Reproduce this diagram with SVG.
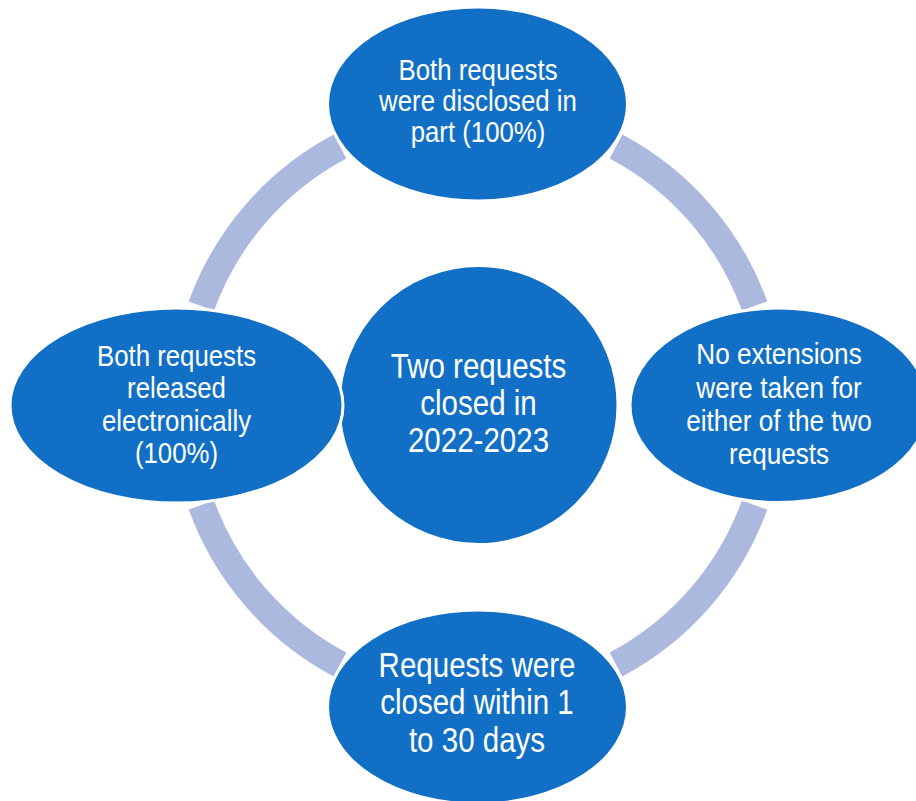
<svg xmlns="http://www.w3.org/2000/svg" width="916" height="801" viewBox="0 0 916 801">
<style>
.arc{fill:none;stroke:#ABB9DE;stroke-width:27;stroke-linecap:butt}
.node{fill:#1170C6;stroke:#FFFFFF;stroke-width:3}
.lbl{font-family:"Liberation Sans",Arial,sans-serif;fill:#FFFFFF;text-anchor:middle}
.s{font-size:30px}
.l{font-size:36px}
</style>
<rect width="916" height="801" fill="#FFFFFF"/>
<g id="connectors">
<path class="arc" d="M201.4,306 A294,294 0 0 1 340,146.5"/>
<path class="arc" d="M616,146.5 A294,294 0 0 1 754.6,306"/>
<path class="arc" d="M754.6,505 A294,294 0 0 1 616,664.5"/>
<path class="arc" d="M340,664.5 A294,294 0 0 1 201.4,505"/>
</g>
<g id="center">
<circle class="node" cx="478.5" cy="405" r="139.5"/>
<g transform="translate(478.5 0) scale(0.82 1)" class="lbl l">
<text x="0" y="377.7">Two requests</text>
<text x="0" y="415">closed in</text>
<text x="0" y="452.3">2022-2023</text>
</g>
</g>
<g id="top">
<ellipse class="node" cx="477.5" cy="104" rx="150" ry="97"/>
<g transform="translate(478 0) scale(0.86 1)" class="lbl s">
<text x="0" y="80.5">Both requests</text>
<text x="0" y="111.5">were disclosed in</text>
<text x="0" y="142.5">part (100%)</text>
</g>
</g>
<g id="right">
<ellipse class="node" cx="779" cy="405.3" rx="149" ry="97.3"/>
<g transform="translate(779 0) scale(0.87 1)" class="lbl s">
<text x="0" y="364.5">No extensions</text>
<text x="0" y="397.8">were taken for</text>
<text x="0" y="431.1">either of the two</text>
<text x="0" y="464.4">requests</text>
</g>
</g>
<g id="bottom">
<ellipse class="node" cx="477.5" cy="707" rx="150" ry="97"/>
<g transform="translate(477 0) scale(0.82 1)" class="lbl l">
<text x="0" y="677">Requests were</text>
<text x="0" y="714.5">closed within 1</text>
<text x="0" y="752">to 30 days</text>
</g>
</g>
<g id="left">
<ellipse class="node" cx="176.5" cy="405.5" rx="166.5" ry="97.5"/>
<g transform="translate(176.5 0) scale(0.86 1)" class="lbl s">
<text x="0" y="365.7">Both requests</text>
<text x="0" y="398.2">released</text>
<text x="0" y="430.7">electronically</text>
<text x="0" y="463.2">(100%)</text>
</g>
</g>
</svg>
